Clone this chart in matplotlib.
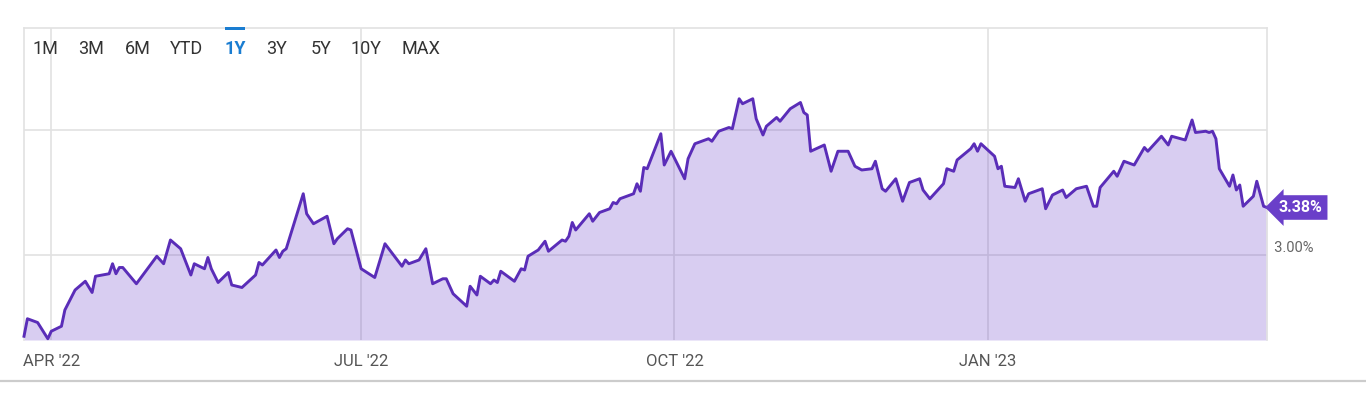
import matplotlib
matplotlib.use("Agg")
import matplotlib.pyplot as plt
from matplotlib.patches import Rectangle
from matplotlib.lines import Line2D
import pandas as pd

# ---- data (10Y yield) ----
dates = [
    "2022-03-24", "2022-03-25", "2022-03-28", "2022-03-31",
    "2022-04-01", "2022-04-04", "2022-04-05", "2022-04-08", "2022-04-11", "2022-04-13", "2022-04-14",
    "2022-04-18", "2022-04-19", "2022-04-20", "2022-04-21", "2022-04-22", "2022-04-26",
    "2022-05-02", "2022-05-04", "2022-05-06", "2022-05-09", "2022-05-12", "2022-05-13", "2022-05-16",
    "2022-05-17", "2022-05-18", "2022-05-20", "2022-05-23", "2022-05-24", "2022-05-27", "2022-05-31",
    "2022-06-01", "2022-06-02", "2022-06-06", "2022-06-07", "2022-06-08", "2022-06-09", "2022-06-14",
    "2022-06-15", "2022-06-17", "2022-06-21", "2022-06-23", "2022-06-24", "2022-06-27", "2022-06-28",
    "2022-07-01", "2022-07-05", "2022-07-08", "2022-07-13", "2022-07-14", "2022-07-15", "2022-07-18",
    "2022-07-20", "2022-07-22", "2022-07-25", "2022-07-26", "2022-07-28",
    "2022-08-01", "2022-08-02", "2022-08-04", "2022-08-05", "2022-08-08", "2022-08-09", "2022-08-10",
    "2022-08-11", "2022-08-15", "2022-08-17", "2022-08-18", "2022-08-19", "2022-08-22", "2022-08-24",
    "2022-08-25", "2022-08-29", "2022-08-30", "2022-08-31",
    "2022-09-01", "2022-09-02", "2022-09-06", "2022-09-07", "2022-09-09", "2022-09-12", "2022-09-13",
    "2022-09-14", "2022-09-15", "2022-09-19", "2022-09-20", "2022-09-21", "2022-09-22", "2022-09-23",
    "2022-09-27", "2022-09-28", "2022-09-30",
    "2022-10-04", "2022-10-05", "2022-10-07", "2022-10-11", "2022-10-12", "2022-10-14", "2022-10-17",
    "2022-10-18", "2022-10-20", "2022-10-21", "2022-10-24", "2022-10-25", "2022-10-27", "2022-10-28",
    "2022-10-31",
    "2022-11-01", "2022-11-04", "2022-11-07", "2022-11-08", "2022-11-09", "2022-11-10", "2022-11-14",
    "2022-11-16", "2022-11-18", "2022-11-21", "2022-11-23", "2022-11-25", "2022-11-28", "2022-11-29",
    "2022-12-01", "2022-12-02", "2022-12-05", "2022-12-07", "2022-12-09", "2022-12-12", "2022-12-13",
    "2022-12-15", "2022-12-19", "2022-12-20", "2022-12-22", "2022-12-23", "2022-12-27", "2022-12-28",
    "2022-12-29", "2022-12-30",
    "2023-01-03", "2023-01-04", "2023-01-05", "2023-01-06", "2023-01-09", "2023-01-10", "2023-01-12",
    "2023-01-13", "2023-01-17", "2023-01-18", "2023-01-20", "2023-01-23", "2023-01-24", "2023-01-27",
    "2023-01-30",
    "2023-02-01", "2023-02-02", "2023-02-03", "2023-02-07", "2023-02-08", "2023-02-10", "2023-02-13",
    "2023-02-16", "2023-02-17", "2023-02-21", "2023-02-23", "2023-02-24", "2023-02-28",
    "2023-03-02", "2023-03-03", "2023-03-06", "2023-03-07", "2023-03-08", "2023-03-09", "2023-03-10",
    "2023-03-13", "2023-03-14", "2023-03-15", "2023-03-16", "2023-03-17", "2023-03-20", "2023-03-21",
    "2023-03-23", "2023-03-24",
]
values = [
    2.35, 2.49, 2.46, 2.33,
    2.39, 2.43, 2.56, 2.72, 2.79, 2.70, 2.83, 2.85, 2.93, 2.85, 2.90, 2.90, 2.77,
    2.99, 2.93, 3.12, 3.05, 2.84, 2.93, 2.89, 2.98, 2.89, 2.78, 2.86, 2.76, 2.74, 2.84,
    2.94, 2.92, 3.04, 2.98, 3.03, 3.05, 3.49, 3.33, 3.25, 3.31, 3.09, 3.13, 3.21, 3.20,
    2.89, 2.82, 3.09, 2.91, 2.96, 2.93, 2.96, 3.05, 2.77, 2.81, 2.81, 2.69,
    2.59, 2.75, 2.68, 2.83, 2.77, 2.80, 2.78, 2.87, 2.79, 2.89, 2.88, 2.99, 3.04, 3.11,
    3.03, 3.12, 3.11, 3.15,
    3.26, 3.20, 3.33, 3.27, 3.34, 3.37, 3.42, 3.41, 3.45, 3.49, 3.57, 3.51, 3.70, 3.69,
    3.97, 3.72, 3.83,
    3.61, 3.77, 3.89, 3.93, 3.91, 3.99, 4.02, 4.01, 4.25, 4.21, 4.25, 4.09, 3.96, 4.03, 4.10,
    4.07, 4.17, 4.22, 4.14, 4.12, 3.83, 3.88, 3.67, 3.83, 3.83, 3.71, 3.68, 3.69, 3.75,
    3.53, 3.51, 3.61, 3.43, 3.58, 3.61, 3.52, 3.45, 3.57, 3.69, 3.67, 3.76, 3.85, 3.89,
    3.83, 3.89,
    3.79, 3.69, 3.71, 3.55, 3.54, 3.61, 3.43, 3.49, 3.53, 3.37, 3.48, 3.52, 3.46, 3.53, 3.55,
    3.39, 3.39, 3.54, 3.67, 3.63, 3.75, 3.72, 3.86, 3.83, 3.95, 3.88, 3.95, 3.92,
    4.08, 3.98, 3.99, 3.98, 3.99, 3.93, 3.69, 3.55, 3.64, 3.52, 3.56, 3.39, 3.47, 3.59,
    3.39, 3.38,
]
x_ticks = ["2022-04-01", "2022-07-01", "2022-10-01", "2023-01-01"]
x_tick_labels = ["APR '22", "JUL '22", "OCT '22", "JAN '23"]
y_grid = [3.0, 4.0]
y_label_value = 3.0
y_label_text = "3.00%"
range_buttons = ["1M", "3M", "6M", "YTD", "1Y", "3Y", "5Y", "10Y", "MAX"]
active_button = "1Y"

# ---- style ----
W, H = 1366, 394
LINE = "#5a2db8"
FILL = "#6a3fc9"
TAG = "#6a3fc9"
GRID = "#e2e2e2"
TXT = "#555555"
BLUE = "#1a7dd1"
narrow = ["Liberation Sans Narrow", "Roboto", "DejaVu Sans"]

d = pd.to_datetime(dates)
xt = pd.to_datetime(x_ticks)

fig = plt.figure(figsize=(W / 100, H / 100), dpi=100)
ax = fig.add_axes([24 / W, 1 - 340 / H, (1267 - 24) / W, (340 - 28) / H])

ymin, ymax = 2.32, 4.816
ax.set_ylim(ymin, ymax)
ax.set_xlim(d[0], d[-1])

for g in y_grid:
    ax.axhline(g, color=GRID, lw=1.2, zorder=0)
for t in xt:
    ax.axvline(t, color=GRID, lw=1.2, zorder=0)

ax.fill_between(d, values, ymin, color=FILL, alpha=0.26, lw=0, zorder=1)
ax.plot(d, values, color=LINE, lw=2.1, solid_joinstyle="round", zorder=3, clip_on=False)

for s in ["left", "top", "right"]:
    ax.spines[s].set_color(GRID)
    ax.spines[s].set_linewidth(1.2)
ax.spines["bottom"].set_visible(False)

ax.set_xticks(xt)
ax.set_xticklabels(x_tick_labels, fontfamily=narrow, fontsize=12, color=TXT)
ax.tick_params(axis="x", length=0, pad=10)
ax.set_yticks([])

# right-hand value label
ax.text(1.0, y_label_value, "  " + y_label_text, transform=ax.get_yaxis_transform(),
        ha="left", va="bottom", fontsize=10.5, color="#666666", fontfamily="Roboto")

# last value tag
ax.annotate(f"{values[-1]:.2f}%", xy=(d[-1], values[-1]), xytext=(8.5, 0),
            textcoords="offset points", ha="left", va="center",
            fontsize=11.5, fontweight="bold", color="white", fontfamily="Roboto",
            bbox=dict(boxstyle="larrow,pad=0.3", fc=TAG, ec="none"),
            annotation_clip=False, zorder=5)

# range selector buttons
btn_x = [45.5, 91, 138, 187, 235, 277, 321, 365.5, 421]
for lbl, bx in zip(range_buttons, btn_x):
    active = lbl == active_button
    fig.text(bx / W, 1 - 49 / H, lbl, ha="center", va="center",
             fontsize=13, fontfamily=narrow,
             color=BLUE if active else "#333333",
             fontweight="bold" if active else "normal")
    if active:
        fig.add_artist(Rectangle(((bx - 10) / W, 1 - 30 / H), 20 / W, 3.5 / H,
                                 transform=fig.transFigure, color=BLUE, lw=0))

# bottom separator
fig.add_artist(Line2D([0, 1], [1 - 381 / H, 1 - 381 / H], transform=fig.transFigure,
                      color="#cccccc", lw=1.6))

fig.savefig("out.png", dpi=100)
